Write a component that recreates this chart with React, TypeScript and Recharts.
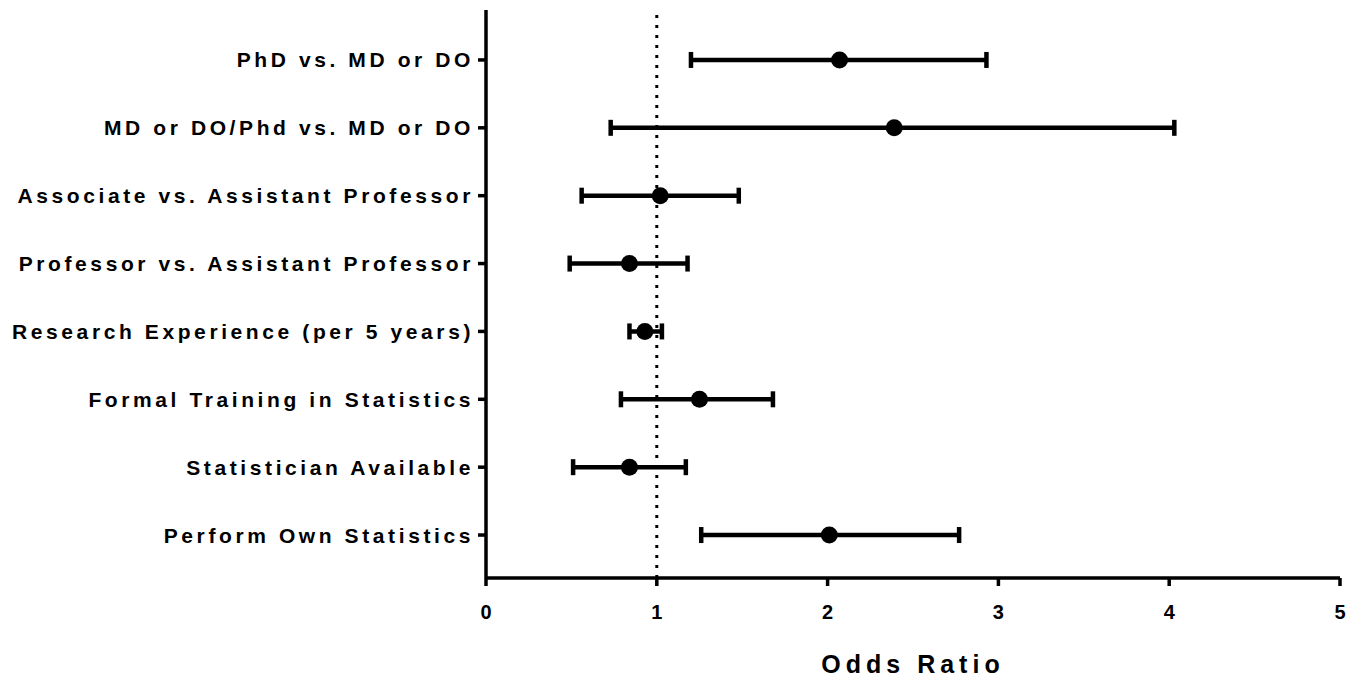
import React from "react";
import {
  ScatterChart,
  Scatter,
  XAxis,
  YAxis,
  ErrorBar,
  ReferenceLine,
} from "recharts";

// Forest plot — odds ratios with 95% CI, top row first
const categories = [
  "PhD vs. MD or DO",
  "MD or DO/Phd vs. MD or DO",
  "Associate vs. Assistant Professor",
  "Professor vs. Assistant Professor",
  "Research Experience (per 5 years)",
  "Formal Training in Statistics",
  "Statistician Available",
  "Perform Own Statistics",
];
const oddsRatios = [2.07, 2.39, 1.02, 0.84, 0.93, 1.25, 0.84, 2.01];
const lowerCI = [1.2, 0.73, 0.56, 0.49, 0.84, 0.79, 0.51, 1.26];
const upperCI = [2.93, 4.03, 1.48, 1.18, 1.03, 1.68, 1.17, 2.77];
const xTicks = [0, 1, 2, 3, 4, 5];

const FONT = "'Liberation Sans', Arial, sans-serif";

const rows = categories.map((name, i) => ({
  name,
  row: categories.length - i,
  or: oddsRatios[i],
  err: [oddsRatios[i] - lowerCI[i], upperCI[i] - oddsRatios[i]],
}));

const labelFor = (row: number) => categories[categories.length - row] ?? "";

function YTick(props: any) {
  const { x, y, payload } = props;
  return (
    <text
      x={x + 4}
      y={y}
      textAnchor="end"
      dominantBaseline="central"
      fontFamily={FONT}
      fontWeight={700}
      fontSize={21}
      letterSpacing={3.6}
      fill="#000"
    >
      {labelFor(payload.value)}
    </text>
  );
}

function XTick(props: any) {
  const { x, y, payload } = props;
  return (
    <text
      x={x}
      y={y}
      dy={21}
      textAnchor="middle"
      fontFamily={FONT}
      fontWeight={700}
      fontSize={20}
      fill="#000"
    >
      {payload.value}
    </text>
  );
}

function XLabel(props: any) {
  const { viewBox } = props;
  const cx = viewBox.x + viewBox.width / 2;
  return (
    <text
      x={cx}
      y={viewBox.y + 95}
      textAnchor="middle"
      fontFamily={FONT}
      fontWeight={700}
      fontSize={25}
      letterSpacing={5}
      fill="#000"
    >
      Odds Ratio
    </text>
  );
}

export default function App() {
  return (
    <ScatterChart
      width={1350}
      height={676}
      margin={{ top: 2, right: 18, left: 0, bottom: 6 }}
    >
      <XAxis
        type="number"
        dataKey="or"
        domain={[0, 5]}
        ticks={xTicks}
        allowDataOverflow
        stroke="#000"
        strokeWidth={3.5}
        tickSize={8}
        tickMargin={12}
        tick={<XTick />}
        height={100}
        label={<XLabel />}
      />
      <YAxis
        type="number"
        dataKey="row"
        domain={[0.367, 8.736]}
        ticks={[1, 2, 3, 4, 5, 6, 7, 8]}
        allowDataOverflow
        width={478}
        stroke="#000"
        strokeWidth={3.5}
        tickSize={8}
        tickMargin={8}
        tick={<YTick />}
      />
      <ReferenceLine
        x={1}
        stroke="#000"
        strokeWidth={3}
        strokeDasharray="3 7"
      />
      <Scatter
        data={rows}
        isAnimationActive={false}
        shape={(p: any) => <circle cx={p.cx} cy={p.cy} r={8.5} fill="#000" />}
      >
        <ErrorBar
          dataKey="err"
          direction="x"
          width={8}
          strokeWidth={4.5}
          stroke="#000"
          isAnimationActive={false}
        />
      </Scatter>
    </ScatterChart>
  );
}
